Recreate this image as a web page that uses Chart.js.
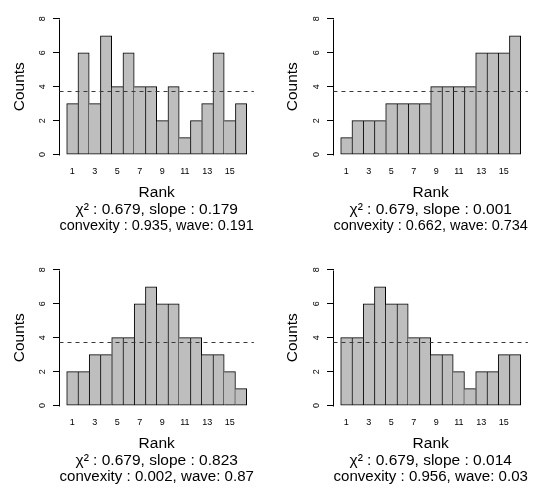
<!DOCTYPE html>
<html><head><meta charset="utf-8">
<script src="https://cdn.jsdelivr.net/npm/chart.js@4/dist/chart.umd.min.js"></script>
<style>
html,body{margin:0;padding:0;background:#fff;}
#wrap{position:relative;width:545px;height:493px;overflow:hidden;background:#fff;}
canvas{position:absolute;}
</style></head><body>
<div id="wrap">
<canvas id="c1" width="272" height="242" style="left:0px;top:0px"></canvas>
<canvas id="c2" width="272" height="242" style="left:273px;top:0px"></canvas>
<canvas id="c3" width="272" height="242" style="left:0px;top:251px"></canvas>
<canvas id="c4" width="272" height="242" style="left:273px;top:251px"></canvas>
</div>
<script>
// ---- data ----
const ranks = [1,2,3,4,5,6,7,8,9,10,11,12,13,14,15,16];
const countsA = [3,6,3,7,4,6,4,4,2,4,1,2,3,6,2,3];
const countsB = [1,2,2,2,3,3,3,3,4,4,4,4,6,6,6,7];
const countsC = [2,2,3,3,4,4,6,7,6,6,4,4,3,3,2,1];
const countsD = [4,4,6,7,6,6,4,4,3,3,2,1,2,2,3,3];
const captionsA = ['χ² : 0.679, slope : 0.179', 'convexity : 0.935, wave: 0.191'];
const captionsB = ['χ² : 0.679, slope : 0.001', 'convexity : 0.662, wave: 0.734'];
const captionsC = ['χ² : 0.679, slope : 0.823', 'convexity : 0.002, wave: 0.87'];
const captionsD = ['χ² : 0.679, slope : 0.014', 'convexity : 0.956, wave: 0.03'];
const xTickLabels = [1,3,5,7,9,11,13,15];
const yTicks = [0,2,4,6,8];
const expectedCount = 3.75;
const xTitle = 'Rank';
const yTitle = 'Counts';

// ---- layout ----
const FONT = 'Liberation Sans, Arial, Helvetica, sans-serif';
Chart.defaults.font.family = FONT;
Chart.defaults.color = '#000';
const CANVAS_H = 242;
const PLOT_H = 160;
const PLOT_W = 194.4;
const xPad = 0.04 * ranks.length;
const xMin = ranks[0] - 0.5 - xPad;
const xMax = ranks[ranks.length - 1] + 0.5 + xPad;
const yPad = 0.04 * yTicks[yTicks.length - 1];
const yMin = yTicks[0] - yPad;
const yMax = yTicks[yTicks.length - 1] + yPad;

function barBorder(ctx) {
  const d = ctx.dataset.data, i = ctx.dataIndex;
  if (!d[i]) return 1;
  const h = d[i].y;
  const prev = i > 0 ? d[i - 1].y : -1;
  const next = i < d.length - 1 ? d[i + 1].y : -1;
  return {top: 1, bottom: 1, left: prev <= h ? 1 : 0, right: next < h ? 1 : 0};
}

const extras = {
  id: 'extras',
  afterDatasetsDraw(chart) {
    const {ctx, chartArea: a, scales: {y}} = chart;
    ctx.save();
    // y axis line from first to last tick
    const ax = Math.floor(a.left) + 0.5;
    ctx.strokeStyle = '#000';
    ctx.lineWidth = 1;
    ctx.beginPath();
    ctx.moveTo(ax, Math.round(y.getPixelForValue(yTicks[0])) + 0.5);
    ctx.lineTo(ax, Math.round(y.getPixelForValue(yTicks[yTicks.length - 1])) + 0.5);
    ctx.stroke();
    // expected-count dashed line
    const py = Math.round(y.getPixelForValue(expectedCount)) + 0.5;
    ctx.strokeStyle = '#3a3a3a';
    ctx.setLineDash([4, 4]);
    ctx.beginPath();
    ctx.moveTo(a.left, py);
    ctx.lineTo(a.right, py);
    ctx.stroke();
    ctx.restore();
  }
};

function makeChart(id, counts, captions, yAxisWidth) {
  const W = 272;
  const rightPad = W - yAxisWidth - PLOT_W;
  return new Chart(document.getElementById(id), {
    type: 'bar',
    data: {
      datasets: [{
        data: ranks.map((r, i) => ({x: r, y: counts[i]})),
        backgroundColor: '#bebebe',
        borderColor: '#000',
        borderWidth: barBorder,
        borderSkipped: false,
        barPercentage: 1,
        categoryPercentage: 1
      }]
    },
    options: {
      responsive: false,
      animation: false,
      devicePixelRatio: 1,
      layout: {autoPadding: false, padding: {left: 0, top: 0, right: rightPad, bottom: 0}},
      plugins: {legend: {display: false}, tooltip: {enabled: false}},
      scales: {
        x: {
          type: 'linear', min: xMin, max: xMax, offset: false,
          afterBuildTicks: s => { s.ticks = xTickLabels.map(v => ({value: v})); },
          afterFit: s => { s.height = CANVAS_H - PLOT_H; },
          grid: {display: false, drawTicks: false, offset: false},
          border: {display: false},
          ticks: {font: {size: 9}, color: '#000', padding: 6.5, maxRotation: 0, minRotation: 0, autoSkip: false},
          title: {display: true, text: [xTitle, ...captions], color: '#000',
                  font: {size: 15.5, lineHeight: '16.75px'}, padding: {top: 0, bottom: 7.5}}
        },
        y: {
          min: yMin, max: yMax,
          afterBuildTicks: s => { s.ticks = yTicks.map(v => ({value: v})); },
          afterFit: s => { s.width = yAxisWidth; },
          grid: {drawOnChartArea: false, drawTicks: true, tickLength: 6.5, color: '#000', lineWidth: 1},
          border: {display: false},
          ticks: {font: {size: 9}, color: '#000', padding: 8, minRotation: 90, maxRotation: 90, crossAlign: 'center'},
          title: {display: true, text: yTitle, color: '#000', font: {size: 15.5}, padding: {top: 10.5, bottom: 0}}
        }
      }
    },
    plugins: [extras]
  });
}

makeChart('c1', countsA, captionsA, 59.5);
makeChart('c2', countsB, captionsB, 60.5);
makeChart('c3', countsC, captionsC, 59.5);
makeChart('c4', countsD, captionsD, 60.5);
</script>
</body></html>
